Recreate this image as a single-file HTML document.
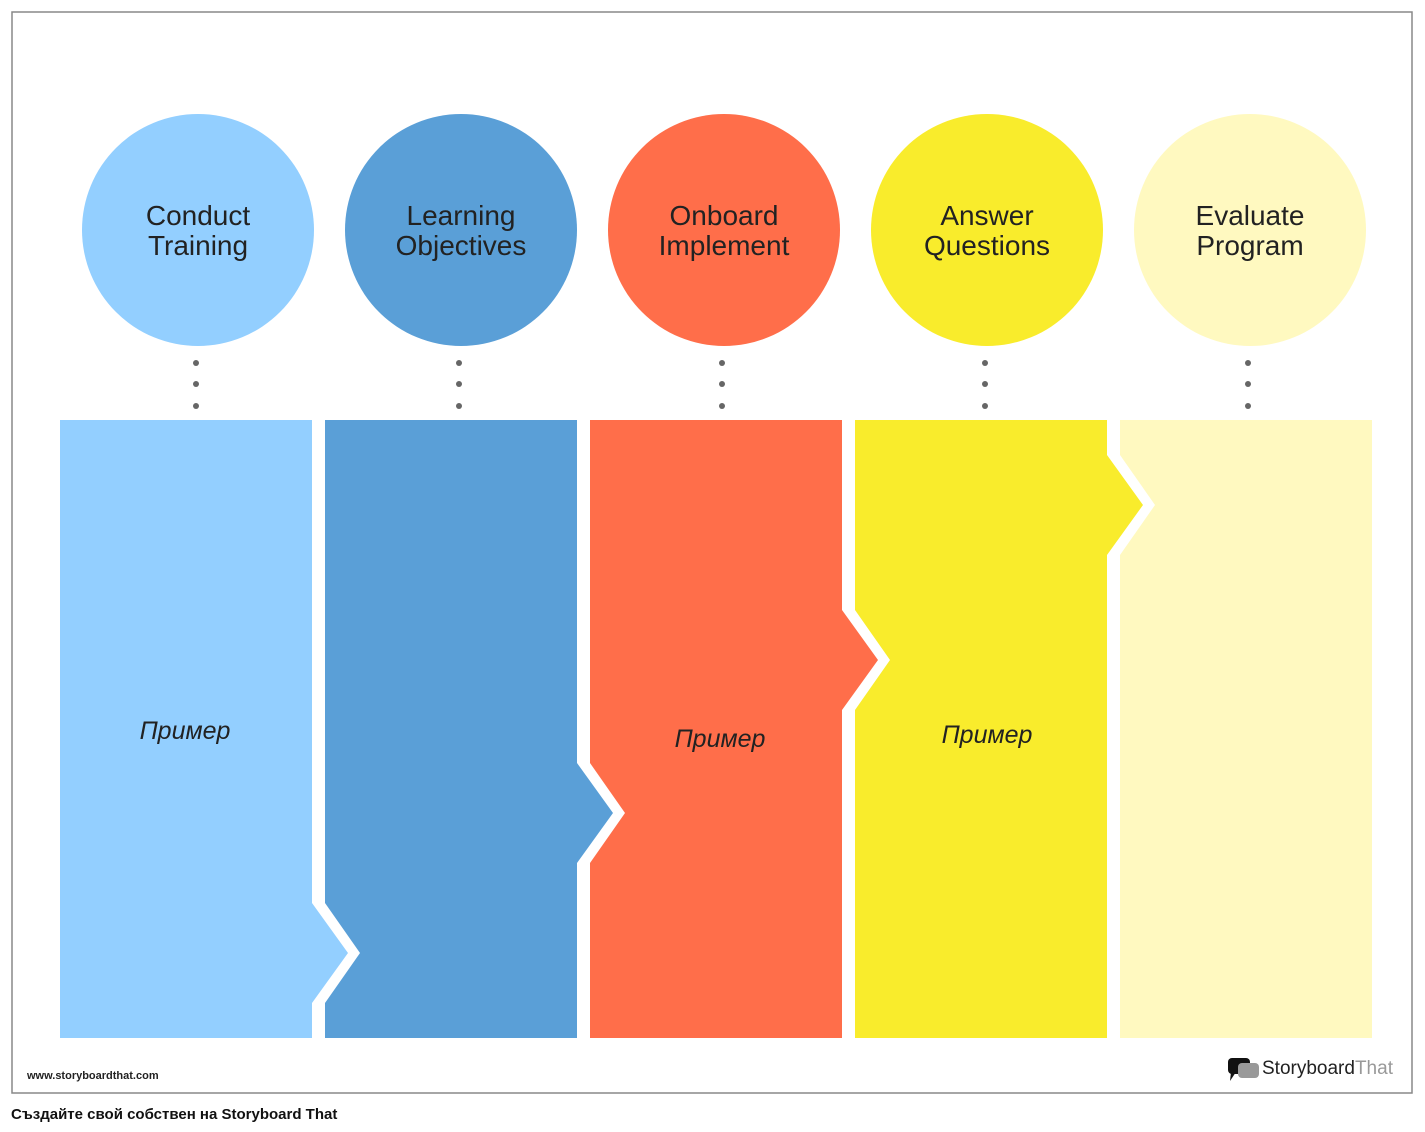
<!DOCTYPE html>
<html><head><meta charset="utf-8"><style>
body{margin:0;width:1425px;height:1132px;background:#fff;font-family:"Liberation Sans",sans-serif;position:relative;overflow:hidden}
</style></head><body>
<svg width="1425" height="1132" style="position:absolute;left:0;top:0">
<rect x="12" y="12" width="1400" height="1081" fill="#fff" stroke="#888" stroke-width="1.5"/>
<g font-family="Liberation Sans, sans-serif" font-size="28" fill="#222" text-anchor="middle">
<circle cx="198" cy="230" r="116" fill="#93cfff"/>
<circle cx="461" cy="230" r="116" fill="#5a9fd7"/>
<circle cx="724" cy="230" r="116" fill="#ff6e4a"/>
<circle cx="987" cy="230" r="116" fill="#f9ec2c"/>
<circle cx="1250" cy="230" r="116" fill="#fff9c0"/>
<text x="198" y="225">Conduct</text><text x="198" y="255">Training</text>
<text x="461" y="225">Learning</text><text x="461" y="255">Objectives</text>
<text x="724" y="225">Onboard</text><text x="724" y="255">Implement</text>
<text x="987" y="225">Answer</text><text x="987" y="255">Questions</text>
<text x="1250" y="225">Evaluate</text><text x="1250" y="255">Program</text>
</g>
<g fill="#666">
<circle cx="196" cy="363" r="3"/><circle cx="196" cy="384" r="3"/><circle cx="196" cy="406" r="3"/>
<circle cx="459" cy="363" r="3"/><circle cx="459" cy="384" r="3"/><circle cx="459" cy="406" r="3"/>
<circle cx="722" cy="363" r="3"/><circle cx="722" cy="384" r="3"/><circle cx="722" cy="406" r="3"/>
<circle cx="985" cy="363" r="3"/><circle cx="985" cy="384" r="3"/><circle cx="985" cy="406" r="3"/>
<circle cx="1248" cy="363" r="3"/><circle cx="1248" cy="384" r="3"/><circle cx="1248" cy="406" r="3"/>
</g>
<polygon fill="#93cfff" points="60,420 312,420 312,903 348,953 312,1003 312,1038 60,1038"/>
<polygon fill="#5a9fd7" points="325,420 577,420 577,763 613,813 577,863 577,1038 325,1038 325,1003 360,953 325,903"/>
<polygon fill="#ff6e4a" points="590,420 842,420 842,610 878,660 842,710 842,1038 590,1038 590,863 625,813 590,763"/>
<polygon fill="#f9ec2c" points="855,420 1107,420 1107,455 1143,505 1107,555 1107,1038 855,1038 855,710 890,660 855,610"/>
<polygon fill="#fff9c0" points="1120,420 1372,420 1372,1038 1120,1038 1120,555 1155,505 1120,455"/>
<g font-family="Liberation Sans, sans-serif" font-size="25" font-style="italic" fill="#222" text-anchor="middle">
<text x="185" y="739">Пример</text>
<text x="720" y="747">Пример</text>
<text x="987" y="743">Пример</text>
</g>
<text x="27" y="1079" font-family="Liberation Sans, sans-serif" font-size="11" font-weight="bold" fill="#222">www.storyboardthat.com</text>
<rect x="1228" y="1058" width="22" height="16" rx="4" fill="#111"/>
<polygon points="1231,1072 1236,1072 1230,1081" fill="#111"/>
<rect x="1238" y="1063" width="21" height="15" rx="4" fill="#999"/>
<text x="1262" y="1074" font-family="Liberation Sans, sans-serif" font-size="19" fill="#222">Storyboard<tspan fill="#999">That</tspan></text>
<text x="11" y="1119" font-family="Liberation Sans, sans-serif" font-size="15" font-weight="bold" fill="#111">Създайте свой собствен на Storyboard That</text>
</svg>
</body></html>
